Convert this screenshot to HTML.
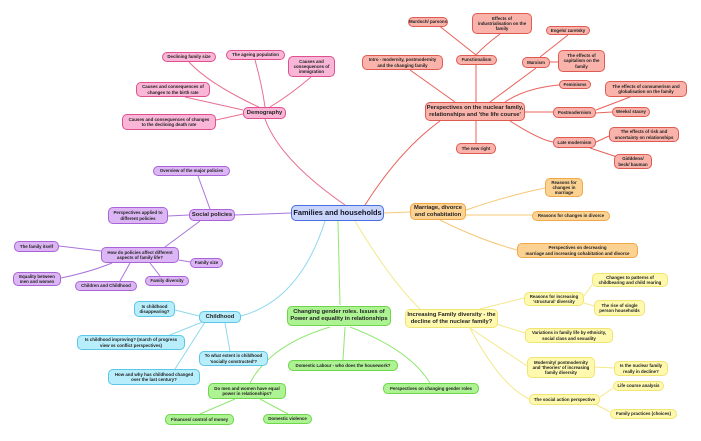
<!DOCTYPE html>
<html><head><meta charset="utf-8"><style>
body{margin:0;width:701px;height:441px;background:#fff;position:relative;overflow:hidden;font-family:"Liberation Sans",sans-serif}
svg{position:absolute;left:0;top:0}
.n{position:absolute;box-sizing:border-box;display:flex;align-items:center;justify-content:center;text-align:center;font-weight:bold;font-size:4.4px;line-height:5.2px;border-radius:5px;border:1px solid;color:#222;white-space:nowrap}
.big{font-size:5.8px;line-height:6.8px;border-width:1.3px}
.p{background:#f9b6d6;border-color:#e0508f}
.v{background:#dcb6f4;border-color:#a864d6}
.c{background:#b8eefc;border-color:#5cc6e6}
.g{background:#adf293;border-color:#6ed64a}
.y{background:#fff9b0;border-color:#f2e470}
.o{background:#fcd293;border-color:#f0a848}
.r{background:#f9b3aa;border-color:#e05a54}
.m{background:#c9d5fb;border-color:#4a6ee0;font-size:7.4px;border-width:1.6px;color:#112}
</style></head><body>
<svg width="701" height="441" fill="none" stroke-width="1">
<g stroke="#e8708f">
<path d="M345 205 Q280 160 265 119"/>
<path d="M189 62 Q210 85 265 110"/><path d="M255 60 Q262 85 265 107"/><path d="M311 77 Q290 95 270 107"/>
<path d="M185 97 L243 110"/><path d="M216 120 L243 114"/>
</g>
<g stroke="#e8605a">
<path d="M365 205 Q400 150 440 121"/>
<path d="M428 17 L476 55"/><path d="M500 34 Q485 45 476 55"/><path d="M476 65 L476 102"/><path d="M410 70 L455 102"/>
<path d="M568 35 L540 57"/><path d="M550 62 L558 62"/><path d="M536 68 L490 102"/><path d="M575 84 Q530 85 505 102"/>
<path d="M525 112 L553 112"/><path d="M596 110 L630 97"/><path d="M596 113 L612 112"/>
<path d="M510 121 Q540 140 553 142"/><path d="M596 142 L609 136"/><path d="M590 148 L620 158"/><path d="M476 121 L476 143"/>
</g>
<g stroke="#a874de">
<path d="M291 213 L235 215"/><path d="M198 176 L210 209"/><path d="M168 216 L189 215"/><path d="M200 221 L165 247"/>
<path d="M59 246 L101 251"/><path d="M179 260 L190 262"/><path d="M61 278 Q90 272 112 263"/><path d="M130 263 L120 281"/><path d="M150 263 L160 276"/>
</g>
<g stroke="#8ed8ee"><path d="M325 221 Q300 300 241 316"/><path d="M175 310 L199 316"/><path d="M170 335 L205 321"/><path d="M225 323 L230 351"/><path d="M205 322 L175 369"/></g>
<g stroke="#90e870"><path d="M338 221 L340 305"/><path d="M345 327 L343 360"/><path d="M330 327 Q270 345 250 383"/><path d="M235 399 L200 414"/><path d="M260 399 L288 414"/><path d="M350 327 Q410 350 430 383"/></g>
<g stroke="#f4e88a"><path d="M355 221 Q390 280 420 309"/><path d="M480 309 L524 298"/><path d="M584 296 L592 285"/><path d="M584 303 L594 306"/><path d="M490 322 L525 333"/><path d="M470 328 L527 366"/><path d="M595 367 L614 368"/><path d="M470 328 Q500 385 529 399"/><path d="M600 397 L613 388"/><path d="M595 404 L610 412"/></g>
<g stroke="#f6c878"><path d="M384 213 L410 212"/><path d="M466 210 Q510 195 545 188"/><path d="M466 215 L532 215"/><path d="M440 220 Q480 240 517 250"/></g>
</svg>

<div class="n m" style="left:291px;top:205px;width:93px;height:16px">Families and households</div>

<div class="n p" style="left:162px;top:52px;width:54px;height:10px">Declining family size</div>
<div class="n p" style="left:226px;top:50px;width:59px;height:10px">The ageing population</div>
<div class="n p" style="left:288px;top:56px;width:47px;height:21px">Causes and<br>consequences of<br>immigration</div>
<div class="n p" style="left:136px;top:82px;width:74px;height:15px">Causes and consequences of<br>changes to the birth rate</div>
<div class="n p big" style="left:243px;top:107px;width:43px;height:12px">Demography</div>
<div class="n p" style="left:122px;top:114px;width:94px;height:16px">Causes and consequences of changes<br>to the declining death rate</div>

<div class="n v" style="left:153px;top:166px;width:77px;height:10px">Overview of the major policies</div>
<div class="n v" style="left:108px;top:207px;width:60px;height:17px">Perspectives applied to<br>different policies</div>
<div class="n v big" style="left:189px;top:209px;width:46px;height:12px">Social policies</div>
<div class="n v" style="left:101px;top:247px;width:78px;height:16px">How do policies affect different<br>aspects of family life?</div>
<div class="n v" style="left:14px;top:241px;width:45px;height:11px">The family itself</div>
<div class="n v" style="left:190px;top:258px;width:33px;height:10px">Family size</div>
<div class="n v" style="left:13px;top:272px;width:48px;height:14px">Equality between<br>men and women</div>
<div class="n v" style="left:75px;top:281px;width:62px;height:10px">Children and Childhood</div>
<div class="n v" style="left:145px;top:276px;width:44px;height:10px">Family diversity</div>

<div class="n c" style="left:134px;top:301px;width:41px;height:16px">Is childhood<br>disappearing?</div>
<div class="n c big" style="left:199px;top:311px;width:42px;height:12px">Childhood</div>
<div class="n c" style="left:77px;top:335px;width:108px;height:15px">Is childhood improving? (march of progress<br>view vs conflict perspectives)</div>
<div class="n c" style="left:199px;top:351px;width:69px;height:15px">To what extent is childhood<br>'socially constructed'?</div>
<div class="n c" style="left:108px;top:369px;width:92px;height:16px">How and why has childhood changed<br>over the last century?</div>

<div class="n g big" style="left:287px;top:306px;width:104px;height:20px">Changing gender roles. Issues of<br>Power and equality in relationships</div>
<div class="n g" style="left:288px;top:360px;width:110px;height:11px">Domestic Labour - who does the housework?</div>
<div class="n g" style="left:208px;top:383px;width:78px;height:16px">Do men and women have equal<br>power in relationships?</div>
<div class="n g" style="left:165px;top:414px;width:69px;height:11px">Finances/ control of money</div>
<div class="n g" style="left:263px;top:414px;width:49px;height:10px">Domestic violence</div>
<div class="n g" style="left:383px;top:383px;width:96px;height:11px">Perspectives on changing gender roles</div>

<div class="n y big" style="left:405px;top:309px;width:93px;height:19px">Increasing Family diversity - the<br>decline of the nuclear family?</div>
<div class="n y" style="left:524px;top:292px;width:60px;height:14px">Reasons for increasing<br>'structural' diversity</div>
<div class="n y" style="left:592px;top:273px;width:76px;height:14px">Changes to patterns of<br>childbearing and child rearing</div>
<div class="n y" style="left:594px;top:300px;width:51px;height:16px">The rise of single<br>person households</div>
<div class="n y" style="left:525px;top:328px;width:88px;height:15px">Variations in family life by ethnicity,<br>social class and sexuality</div>
<div class="n y" style="left:527px;top:357px;width:68px;height:21px">Modernity/ postmodernity<br>and 'theories' of increasing<br>family diversity</div>
<div class="n y" style="left:614px;top:361px;width:54px;height:15px">Is the nuclear family<br>really in decline?</div>
<div class="n y" style="left:613px;top:381px;width:51px;height:10px">Life course analysis</div>
<div class="n y" style="left:529px;top:394px;width:71px;height:11px">The social action perspective</div>
<div class="n y" style="left:610px;top:409px;width:67px;height:10px">Family practices (choices)</div>

<div class="n o big" style="left:410px;top:203px;width:56px;height:17px">Marriage, divorce<br>and cohabitation</div>
<div class="n o" style="left:545px;top:178px;width:38px;height:19px">Reasons for<br>changes in<br>marriage</div>
<div class="n o" style="left:532px;top:211px;width:78px;height:10px">Reasons for changes in divorce</div>
<div class="n o" style="left:517px;top:243px;width:121px;height:15px">Perspectives on decreasing<br>marriage and increasing cohabitation and divorce</div>

<div class="n r" style="left:408px;top:17px;width:40px;height:10px">Murdoch/ parsons</div>
<div class="n r" style="left:472px;top:13px;width:60px;height:21px">Effects of<br>industrialisation on the<br>family</div>
<div class="n r" style="left:546px;top:26px;width:44px;height:9px">Engels/ zaretsky</div>
<div class="n r" style="left:456px;top:55px;width:41px;height:10px">Functionalism</div>
<div class="n r" style="left:362px;top:55px;width:81px;height:15px">Intro - modernity, postmodernity<br>and the changing family</div>
<div class="n r" style="left:522px;top:57px;width:28px;height:11px">Marxism</div>
<div class="n r" style="left:558px;top:50px;width:47px;height:22px">The effects of<br>capitalism on the<br>family</div>
<div class="n r" style="left:559px;top:80px;width:32px;height:9px">Feminisms</div>
<div class="n r big" style="left:425px;top:102px;width:100px;height:19px">Perspectives on the nuclear family,<br>relationships and 'the life course'</div>
<div class="n r" style="left:605px;top:81px;width:82px;height:16px">The effects of consumerism and<br>globalisation on the family</div>
<div class="n r" style="left:553px;top:107px;width:43px;height:11px">Postmodernism</div>
<div class="n r" style="left:612px;top:107px;width:38px;height:10px">Weeks/ stacey</div>
<div class="n r" style="left:609px;top:127px;width:70px;height:15px">The effects of risk and<br>uncertainty on relationships</div>
<div class="n r" style="left:553px;top:137px;width:43px;height:11px">Late modernism</div>
<div class="n r" style="left:614px;top:154px;width:38px;height:15px">Gidddens/<br>beck/ bauman</div>
<div class="n r" style="left:456px;top:143px;width:40px;height:11px">The new right</div>
</body></html>
